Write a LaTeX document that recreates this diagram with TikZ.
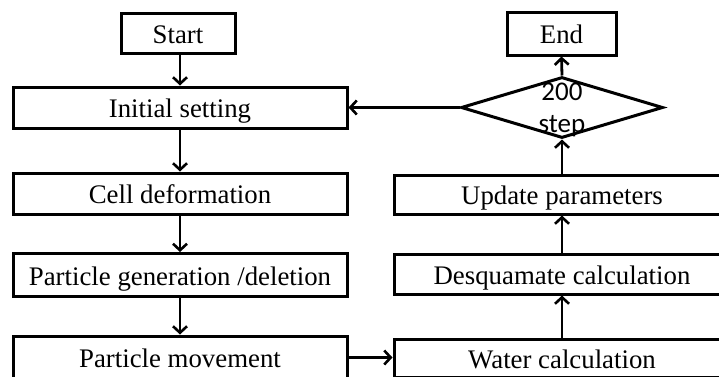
\documentclass[tikz,border=0pt]{standalone}
\usepackage{fontspec}
\setmainfont{Liberation Serif}
\newfontfamily\dfont{Carlito}
\usetikzlibrary{arrows.meta,shapes.geometric}
\begin{document}
\begin{tikzpicture}[x=1pt,y=-1pt,
  box/.style={draw,line width=3pt,inner sep=0pt,text height=20pt,text depth=0pt,font=\fontsize{26.8}{30}\selectfont},
  flow/.style={draw,line width=2.8pt,-{Straight Barb[length=6.5pt,width=14pt,line width=2.6pt]}},
  dtext/.style={inner sep=0pt,anchor=base,font=\dfont\fontsize{27}{30}\selectfont}]
\path[use as bounding box,clip] (0,0) rectangle (719,376);
\node[box,minimum width=114pt,minimum height=40pt] (start) at (178,33.5) {Start};
\node[box,minimum width=334pt,minimum height=41pt] (init) at (180,107.5) {Initial setting};
\node[box,minimum width=334pt,minimum height=41pt] (cell) at (180,193.5) {Cell deformation};
\node[box,minimum width=334pt,minimum height=43pt] (pgen) at (180,275) {Particle generation /deletion};
\node[box,minimum width=334pt,minimum height=43pt] (pmove) at (180,357.5) {Particle movement};
\node[box,minimum width=109pt,minimum height=43pt] (end) at (561.5,33.5) {End};
\node[draw,diamond,line width=3pt,inner sep=0pt,minimum width=202pt,minimum height=61pt] (dec) at (562,107.5) {};
\node[dtext] (d200) at (562,100.5) {200};
\node[dtext] (dstep) at (562,132.5) {step};
\node[box,minimum width=336pt,minimum height=39pt] (upd) at (562,194.5) {Update parameters};
\node[box,minimum width=336pt,minimum height=40pt] (desq) at (562,274) {Desquamate calculation};
\node[box,minimum width=336pt,minimum height=38pt] (water) at (562,358) {Water calculation};
\draw[flow] (start.south -| init.north) -- (init.north);
\draw[flow] (init) -- (cell);
\draw[flow] (cell) -- (pgen);
\draw[flow] (pgen) -- (pmove);
\draw[flow] (pmove.east) -- (water.west |- pmove.east);
\draw[flow] (water) -- (desq);
\draw[flow] (desq) -- (upd);
\draw[flow] (upd) -- (dec.south);
\draw[flow] (dec.north) -- (end.south);
\draw[flow] (dec.west) -- (init.east);
\end{tikzpicture}
\end{document}
